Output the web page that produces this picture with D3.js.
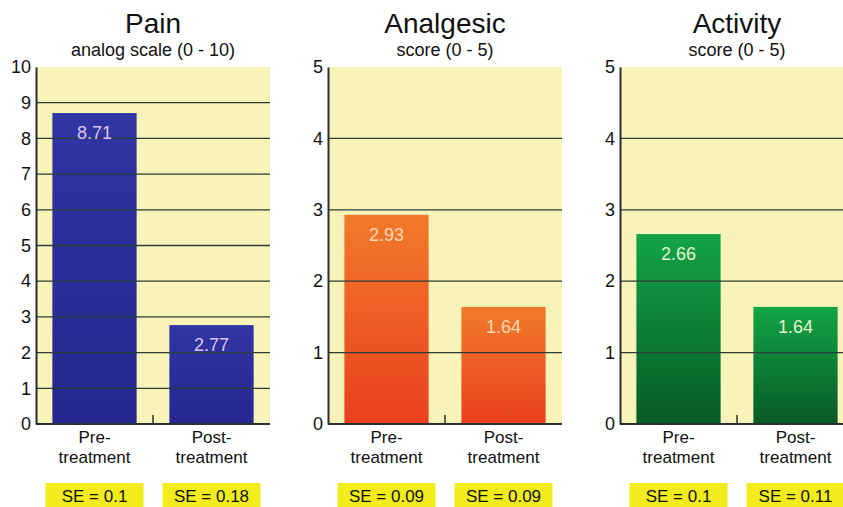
<!DOCTYPE html>
<html>
<head>
<meta charset="utf-8">
<script src="https://cdn.jsdelivr.net/npm/d3@7"></script>
<style>
  body { margin: 0; background: #fff; }
  svg { display: block; font-family: "Liberation Sans", Arial, sans-serif; }
</style>
</head>
<body>
<div id="chart"></div>
<script>
// data
var categories = ["Pre-treatment", "Post-treatment"];
var titles = ["Pain", "Analgesic", "Activity"];
var subtitles = ["analog scale (0 - 10)", "score (0 - 5)", "score (0 - 5)"];
var scaleMax = [10, 5, 5];
var painValues = [8.71, 2.77];
var analgesicValues = [2.93, 1.64];
var activityValues = [2.66, 1.64];
var painSE = ["0.1", "0.18"];
var analgesicSE = ["0.09", "0.09"];
var activitySE = ["0.1", "0.11"];

var width = 843, height = 507;
var plotTop = 67, plotBottom = 424, plotW = 234;
var plotLeft = [36, 328, 620];

var panels = [
  {values: painValues, se: painSE, top: "#3035a4", bottom: "#25278f", label: "#d9c3ea"},
  {values: analgesicValues, se: analgesicSE, top: "#f27a2a", bottom: "#e9401f", label: "#fbd6b4"},
  {values: activityValues, se: activitySE, top: "#13a446", bottom: "#075a27", label: "#e3f5cf"}
];

var svg = d3.select("#chart").append("svg")
  .attr("width", width)
  .attr("height", height);

var defs = svg.append("defs");

panels.forEach(function (p, k) {
  var left = plotLeft[k];

  var grad = defs.append("linearGradient")
    .attr("id", "grad" + k)
    .attr("x1", 0).attr("y1", 0).attr("x2", 0).attr("y2", 1);
  grad.append("stop").attr("offset", "0%").attr("stop-color", p.top);
  grad.append("stop").attr("offset", "100%").attr("stop-color", p.bottom);

  var x = d3.scaleBand()
    .domain(categories)
    .range([left, left + plotW])
    .paddingInner(0.28)
    .paddingOuter(0.14);

  var y = d3.scaleLinear()
    .domain([0, scaleMax[k]])
    .range([plotBottom, plotTop]);

  var g = svg.append("g");

  // background
  g.append("rect")
    .attr("x", left)
    .attr("y", plotTop)
    .attr("width", plotW)
    .attr("height", plotBottom - plotTop)
    .attr("fill", "#f7f3b9");

  // bars
  g.selectAll(".bar")
    .data(p.values)
    .enter().append("rect")
    .attr("class", "bar")
    .attr("x", function (d, i) { return x(categories[i]); })
    .attr("y", function (d) { return y(d); })
    .attr("width", x.bandwidth())
    .attr("height", function (d) { return plotBottom - y(d); })
    .attr("fill", "url(#grad" + k + ")");

  // gridlines on top of bars
  var gridTicks = d3.range(1, scaleMax[k]);
  g.selectAll(".grid")
    .data(gridTicks)
    .enter().append("line")
    .attr("x1", left)
    .attr("x2", left + plotW)
    .attr("y1", function (d) { return y(d); })
    .attr("y2", function (d) { return y(d); })
    .attr("stroke", "#2f3b3a")
    .attr("stroke-width", 1.3);

  // value labels
  g.selectAll(".val")
    .data(p.values)
    .enter().append("text")
    .attr("x", function (d, i) { return x(categories[i]) + x.bandwidth() / 2; })
    .attr("y", function (d) { return y(d) + 26; })
    .attr("text-anchor", "middle")
    .attr("font-size", 18)
    .attr("fill", p.label)
    .text(function (d) { return d.toFixed(2); });

  // y axis
  var yAxis = d3.axisLeft(y)
    .ticks(scaleMax[k])
    .tickSize(0)
    .tickPadding(5);
  var ya = g.append("g")
    .attr("transform", "translate(" + left + ",0)")
    .call(yAxis);
  ya.select(".domain").attr("stroke", "#2a2f33").attr("stroke-width", 2);
  ya.selectAll("text").attr("font-size", 18).attr("fill", "#111")
    .style("font-family", "'Liberation Sans', Arial, sans-serif");

  // x axis line
  g.append("line")
    .attr("x1", left)
    .attr("x2", left + plotW)
    .attr("y1", plotBottom)
    .attr("y2", plotBottom)
    .attr("stroke", "#2a2f33")
    .attr("stroke-width", 2);

  // small center tick
  g.append("line")
    .attr("x1", left + plotW / 2)
    .attr("x2", left + plotW / 2)
    .attr("y1", plotBottom)
    .attr("y2", plotBottom - 9)
    .attr("stroke", "#2a2f33")
    .attr("stroke-width", 1.5);

  // category labels
  categories.forEach(function (c, i) {
    var cx = x(c) + x.bandwidth() / 2;
    var parts = c.split("-");
    var t = g.append("text")
      .attr("x", cx)
      .attr("y", 443)
      .attr("text-anchor", "middle")
      .attr("font-size", 17)
      .attr("fill", "#111");
    t.append("tspan").attr("x", cx).text(parts[0] + "-");
    t.append("tspan").attr("x", cx).attr("dy", 20).text(parts[1]);

    // SE boxes
    g.append("rect")
      .attr("x", cx - 49)
      .attr("y", 483)
      .attr("width", 98)
      .attr("height", 24)
      .attr("fill", "#f2ec1c");
    g.append("text")
      .attr("x", cx)
      .attr("y", 502)
      .attr("text-anchor", "middle")
      .attr("font-size", 17)
      .attr("fill", "#111")
      .text("SE = " + p.se[i]);
  });

  // titles
  var cxp = left + plotW / 2;
  g.append("text")
    .attr("x", cxp)
    .attr("y", 33)
    .attr("text-anchor", "middle")
    .attr("font-size", 28)
    .attr("fill", "#111")
    .text(titles[k]);
  g.append("text")
    .attr("x", cxp)
    .attr("y", 56)
    .attr("text-anchor", "middle")
    .attr("font-size", 18)
    .attr("fill", "#111")
    .text(subtitles[k]);
});
</script>
</body>
</html>
